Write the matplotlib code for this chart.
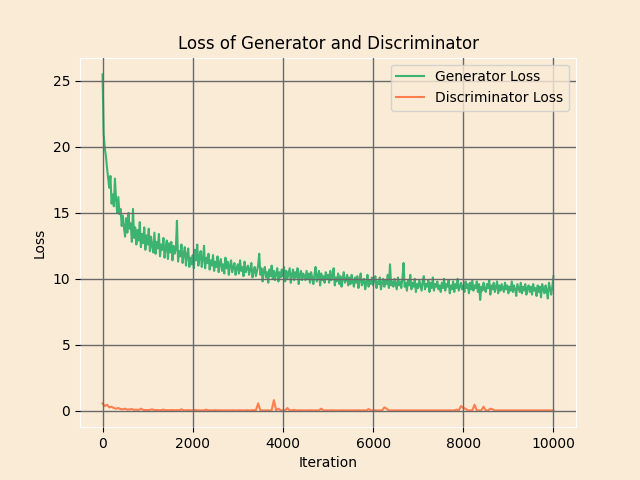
import matplotlib
matplotlib.use("Agg")
import matplotlib.pyplot as plt

gen_iterations = list(range(0, 10001, 25))
disc_iterations = list(range(0, 10001, 50))

generator_loss = [
    25.5, 21.0, 19.9, 19.3, 18.4, 17.6, 16.9, 17.8, 15.7, 16.4, 15.5, 17.6, 16.0, 15.0, 16.2, 14.9, 15.3, 14.0, 14.8, 13.9,
    13.2, 14.6, 13.5, 15.0, 13.8, 14.2, 12.8, 15.3, 13.1, 13.9, 12.6, 13.7, 12.9, 14.3, 12.4, 13.4, 12.7, 13.9, 12.2, 13.3,
    12.6, 13.8, 12.1, 13.2, 12.5, 12.0, 13.5, 11.9, 12.8, 12.3, 13.4, 11.7, 12.6, 12.2, 13.1, 11.6, 12.4, 12.9, 11.5, 12.7,
    12.0, 12.8, 11.4, 12.5, 11.9, 12.2, 14.4, 11.3, 12.1, 11.7, 12.6, 11.2, 11.9, 12.4, 11.0, 11.8, 12.3, 10.9, 11.6, 11.1,
    11.8, 10.8, 12.2, 11.4, 12.6, 11.0, 11.7, 12.1, 10.9, 11.5, 12.5, 10.8, 11.6, 11.2, 11.9, 10.7, 11.4, 11.0, 11.8, 10.6,
    11.3, 10.9, 11.7, 10.5, 11.2, 11.5, 10.6, 11.1, 10.4, 11.6, 10.8, 11.3, 10.3, 11.0, 11.4, 10.5, 10.9, 11.2, 10.3, 10.8,
    11.1, 10.4, 11.4, 10.6, 10.9, 10.2, 11.3, 10.5, 10.8, 11.0, 10.3, 10.7, 11.2, 10.1, 10.6, 10.9, 10.2, 10.6, 11.0, 11.9,
    10.3, 10.8, 9.8, 10.6, 10.9, 10.1, 10.5, 9.7, 10.7, 10.2, 11.0, 10.0, 10.6, 9.9, 10.4, 10.8, 9.8, 10.5, 10.1, 10.7,
    10.2, 10.9, 9.8, 10.6, 10.0, 10.4, 10.8, 9.7, 10.3, 10.7, 9.9, 10.5, 10.1, 10.8, 9.6, 10.3, 10.6, 9.9, 10.4, 10.2,
    9.9, 10.6, 10.0, 10.4, 9.7, 10.5, 10.1, 9.6, 10.3, 10.9, 9.8, 10.2, 10.6, 9.5, 10.4, 9.9, 10.2, 9.7, 10.5, 10.0,
    10.3, 9.7, 10.6, 9.9, 10.2, 10.8, 9.5, 10.1, 9.8, 10.4, 9.6, 10.2, 9.4, 10.0, 10.5, 9.7, 9.9, 10.3, 9.5, 10.1,
    9.6, 10.3, 9.8, 9.4, 10.1, 9.7, 10.2, 9.3, 9.9, 10.4, 9.5, 9.8, 10.0, 9.2, 9.7, 10.3, 9.4, 9.9, 9.6, 10.1,
    9.5, 9.9, 10.2, 9.3, 9.8, 9.6, 10.1, 9.2, 9.7, 10.0, 9.4, 9.9, 9.6, 10.3, 9.3, 11.1, 9.5, 9.8, 9.4, 10.0,
    9.6, 9.2, 10.1, 9.5, 9.8, 9.3, 10.0, 11.2, 9.4, 9.7, 9.1, 9.9, 9.5, 10.3, 9.2, 9.7, 9.4, 10.0, 9.0, 9.6,
    9.3, 9.9, 9.5, 9.1, 9.8, 10.2, 9.2, 9.6, 9.4, 9.9, 9.0, 9.7, 9.3, 10.1, 9.1, 9.6, 9.4, 9.8, 9.2, 9.5,
    9.0, 9.7, 9.3, 10.0, 9.1, 9.6, 9.4, 9.9, 8.9, 9.5, 9.2, 9.8, 9.0, 9.6, 9.3, 10.0, 9.1, 9.4, 9.7, 9.2,
    9.5, 9.0, 9.8, 9.3, 9.6, 8.9, 9.7, 9.2, 9.9, 9.1, 9.5, 9.3, 9.8, 9.0, 9.6, 8.4, 9.4, 9.1, 9.7, 9.2,
    9.0, 9.6, 9.3, 9.9, 8.8, 9.5, 9.2, 9.7, 9.0, 9.4, 9.8, 8.9, 9.5, 9.1, 9.6, 9.3, 9.0, 9.7, 9.2, 9.5,
    8.9, 9.4, 9.1, 9.8, 9.0, 9.5, 9.2, 8.7, 9.6, 9.3, 9.0, 9.7, 8.9, 9.4, 9.1, 9.6, 8.8, 9.3, 9.5, 9.0,
    9.4, 8.8, 9.6, 9.1, 9.3, 8.7, 9.5, 9.0, 9.4, 8.6, 9.6, 9.2, 8.9, 9.5, 9.1, 8.5, 9.7, 9.3, 8.8, 9.4,
    10.2,
]

discriminator_loss = [
    0.55, 0.35, 0.45, 0.25, 0.30, 0.20, 0.15, 0.20, 0.12, 0.10,
    0.15, 0.08, 0.10, 0.12, 0.06, 0.08, 0.05, 0.15, 0.06, 0.05,
    0.04, 0.06, 0.10, 0.04, 0.05, 0.03, 0.04, 0.08, 0.03, 0.04,
    0.03, 0.05, 0.03, 0.04, 0.03, 0.10, 0.03, 0.02, 0.04, 0.03,
    0.02, 0.05, 0.03, 0.02, 0.02, 0.03, 0.08, 0.02, 0.03, 0.02,
    0.04, 0.02, 0.03, 0.02, 0.02, 0.03, 0.02, 0.02, 0.03, 0.02,
    0.02, 0.03, 0.02, 0.02, 0.04, 0.02, 0.02, 0.05, 0.02, 0.55,
    0.03, 0.02, 0.02, 0.02, 0.02, 0.03, 0.80, 0.02, 0.15, 0.03,
    0.02, 0.03, 0.20, 0.02, 0.02, 0.06, 0.02, 0.02, 0.03, 0.02,
    0.02, 0.02, 0.03, 0.02, 0.02, 0.02, 0.03, 0.15, 0.02, 0.02,
    0.02, 0.02, 0.03, 0.02, 0.02, 0.02, 0.02, 0.03, 0.02, 0.02,
    0.02, 0.02, 0.02, 0.03, 0.02, 0.02, 0.02, 0.02, 0.12, 0.02,
    0.02, 0.03, 0.02, 0.02, 0.02, 0.25, 0.15, 0.02, 0.02, 0.02,
    0.02, 0.02, 0.02, 0.02, 0.02, 0.02, 0.02, 0.02, 0.02, 0.02,
    0.02, 0.02, 0.02, 0.02, 0.02, 0.02, 0.02, 0.02, 0.02, 0.02,
    0.02, 0.02, 0.02, 0.02, 0.02, 0.02, 0.02, 0.08, 0.02, 0.35,
    0.20, 0.15, 0.02, 0.02, 0.02, 0.45, 0.02, 0.02, 0.02, 0.30,
    0.02, 0.02, 0.15, 0.10, 0.02, 0.02, 0.02, 0.02, 0.02, 0.02,
    0.02, 0.02, 0.02, 0.02, 0.02, 0.02, 0.02, 0.02, 0.02, 0.02,
    0.02, 0.02, 0.02, 0.02, 0.02, 0.02, 0.02, 0.02, 0.02, 0.02,
    0.02,
]

bg = "#FAEBD7"
fig, ax = plt.subplots(figsize=(6.4, 4.8), dpi=100)
fig.patch.set_facecolor(bg)
ax.set_facecolor(bg)

ax.plot(gen_iterations, generator_loss, color="#3CB371", label="Generator Loss")
ax.plot(disc_iterations, discriminator_loss, color="#FF7F50", label="Discriminator Loss")

ax.grid(True, color="#696969", linewidth=1.0)
ax.set_axisbelow(False)
for s in ax.spines.values():
    s.set_color("white")

ax.set_title("Loss of Generator and Discriminator")
ax.set_xlabel("Iteration")
ax.set_ylabel("Loss")
leg = ax.legend(loc="upper right")
leg.get_frame().set_facecolor(bg)

fig.savefig("out.png", dpi=100, facecolor=bg)
